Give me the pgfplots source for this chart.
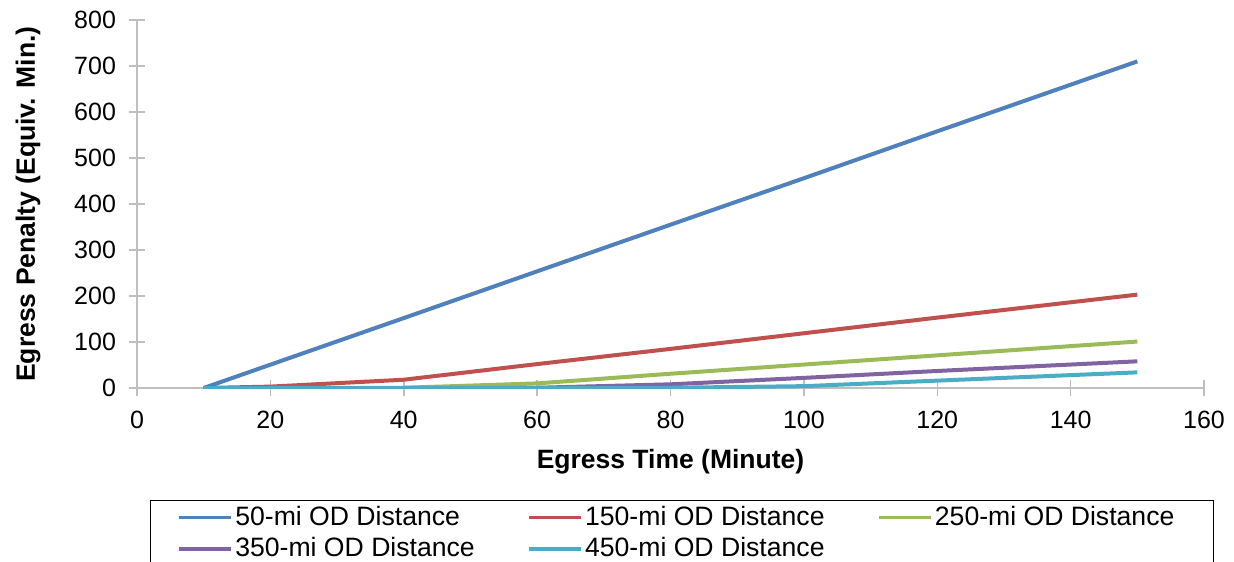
\documentclass[border=0pt]{standalone}
\usepackage{pgfplots}
\pgfplotsset{compat=1.18}
\usepackage{fontspec}
\setmainfont{Liberation Sans}
\definecolor{cblue}{HTML}{4F81BD}
\definecolor{cred}{HTML}{C0504D}
\definecolor{cgreen}{HTML}{9BBB59}
\definecolor{cpurple}{HTML}{8064A2}
\definecolor{ccyan}{HTML}{4BACC6}
\definecolor{axgray}{HTML}{BFBFBF}
\begin{document}
\begin{tikzpicture}
\begin{axis}[
  at={(0,0)}, anchor=south west,
  scale only axis, width=533.5pt, height=184pt,
  xmin=0, xmax=160, ymin=0, ymax=800,
  xtick={0,20,...,160}, ytick={0,100,...,800},
  axis x line*=bottom, axis y line*=left,
  axis line style={draw=axgray, line width=0.75pt},
  tick style={draw=axgray, line width=0.75pt},
  tick align=center, major tick length=8pt,
  /pgf/number format/assume math mode=true,
  tick label style={font=\fontsize{12.5}{14}\selectfont},
  xticklabel style={yshift=-4pt},
  yticklabel style={xshift=-3pt},
  xlabel={\textbf{Egress Time (Minute)}},
  ylabel={\textbf{Egress Penalty (Equiv. Min.)}},
  label style={font=\fontsize{13.25}{15}\selectfont},
  xlabel style={at={(axis description cs:0.5,-0.2)}, anchor=center},
  ylabel style={at={(axis description cs:-0.102,0.5)}, anchor=center, rotate=0},
  legend columns=3,
  legend cell align=left,
  legend style={at={(axis description cs:0.0122,-0.304)}, anchor=north west,
    draw=black, line width=0.5pt, font=\fontsize{13.3}{14}\selectfont,
    /tikz/every even column/.append style={column sep=0pt},
    row sep=2.5pt,
    nodes={inner sep=1pt}, inner xsep=13.5pt, inner ysep=2pt},
  legend image code/.code={\draw[#1, line width=1.9pt] (0pt,0pt) -- (26pt,0pt);},
  every axis plot/.append style={line width=2pt},
]
\addplot[cblue] coordinates {(10,0) (20,50.7) (40,152) (60,253.6) (80,355) (100,456) (120,558) (150,710)};
\addlegendentry{\makebox[145pt][l]{50-mi OD Distance}}
\addplot[cred] coordinates {(10,0) (20,3) (40,18) (60,52) (80,85) (100,119) (120,153) (150,203)};
\addlegendentry{\makebox[145pt][l]{150-mi OD Distance}}
\addplot[cgreen] coordinates {(10,0) (20,0) (40,0.5) (60,10) (80,31) (100,51) (120,71) (150,101)};
\addlegendentry{\makebox[125pt][l]{250-mi OD Distance}}
\addplot[cpurple] coordinates {(10,0) (20,0) (40,0) (60,0.5) (80,8) (100,22) (120,37) (150,58)};
\addlegendentry{\makebox[145pt][l]{350-mi OD Distance}}
\addplot[ccyan] coordinates {(10,0) (20,0) (40,0) (60,0) (80,0.5) (100,4) (120,16) (150,34)};
\addlegendentry{\makebox[145pt][l]{450-mi OD Distance}}
\end{axis}
\pgfresetboundingbox
\useasboundingbox (-68.5pt,-86.5pt) rectangle (548.5pt,194pt);
\end{tikzpicture}
\end{document}
